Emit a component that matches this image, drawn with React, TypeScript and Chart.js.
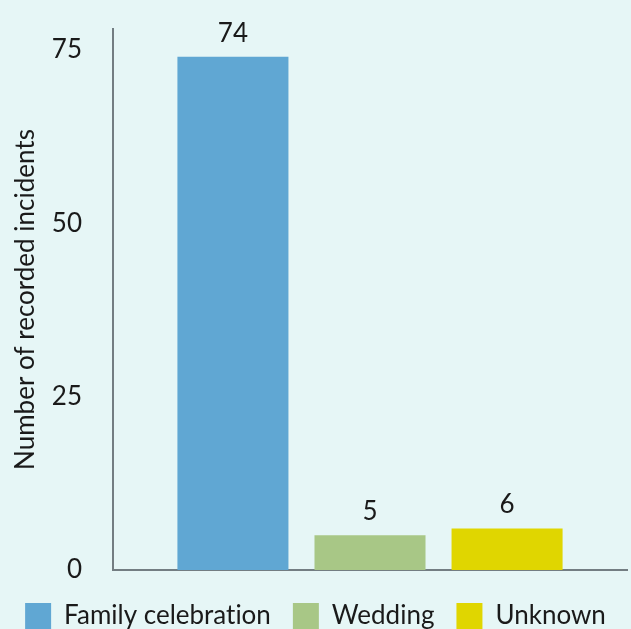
import { useEffect, useRef } from "react";
import { Chart, registerables } from "chart.js";

Chart.register(...registerables);

const categories = [""];
const seriesNames = ["Family celebration", "Wedding", "Unknown"];
const familyCelebration = [74];
const wedding = [5];
const unknown = [6];
const yTicks = [0, 25, 50, 75];
const seriesColors = ["#60a7d3", "#a8c786", "#e0d600"];

const FONT = { family: "Lato", size: 26 };
const TEXT = "#1a1a1a";
const AXIS = "#737d82";
const BG = "#e6f6f6";

export default function App() {
  const ref = useRef<HTMLCanvasElement>(null);

  useEffect(() => {
    document.body.style.margin = "0";
    document.body.style.background = BG;
    document.body.style.overflow = "hidden";

    const noLigatures = (chart: any) => {
      const ctx = chart.ctx as any;
      if (ctx && "textRendering" in ctx) ctx.textRendering = "optimizeSpeed";
    };

    const labelPlugin = {
      id: "valueLabels",
      beforeLayout(chart: any) {
        noLigatures(chart);
      },
      beforeDraw(chart: any) {
        noLigatures(chart);
      },
      afterDatasetsDraw(chart: any) {
        const ctx = chart.ctx;
        ctx.save();
        ctx.font = "26px Lato";
        ctx.fillStyle = TEXT;
        ctx.textAlign = "center";
        ctx.textBaseline = "alphabetic";
        chart.data.datasets.forEach((ds: any, i: number) => {
          const meta = chart.getDatasetMeta(i);
          meta.data.forEach((el: any, j: number) => {
            ctx.fillText(String(ds.data[j]), el.x, el.y - 15);
          });
        });
        ctx.restore();
      },
    };

    const values = [familyCelebration, wedding, unknown];
    const chart = new Chart(ref.current as HTMLCanvasElement, {
      type: "bar",
      data: {
        labels: categories,
        datasets: seriesNames.map((name, i) => ({
          label: name,
          data: values[i],
          backgroundColor: seriesColors[i],
          borderWidth: 0,
          barPercentage: 0.81,
          categoryPercentage: 0.8,
        })),
      },
      options: {
        animation: false,
        responsive: false,
        maintainAspectRatio: false,
        layout: { padding: { top: 29, right: 0, left: 0, bottom: 0 } },
        plugins: {
          legend: {
            position: "bottom",
            labels: {
              boxWidth: 26,
              boxHeight: 26,
              padding: 22,
              font: FONT,
              color: TEXT,
            },
          },
          tooltip: { enabled: false },
        },
        scales: {
          x: {
            grid: { display: false, drawTicks: false },
            border: { display: true, color: AXIS, width: 2 },
            ticks: { display: false },
            afterFit: (s: any) => {
              s.height = 11;
              s.paddingLeft = 0;
              s.paddingRight = 4;
            },
          },
          y: {
            min: 0,
            max: 78,
            afterBuildTicks: (s: any) => {
              s.ticks = yTicks.map((v) => ({ value: v }));
            },
            grid: { display: false, drawTicks: false },
            border: { display: true, color: AXIS, width: 2 },
            ticks: { padding: 31, font: FONT, color: TEXT },
            title: {
              display: true,
              text: "Number of recorded incidents",
              font: FONT,
              color: TEXT,
              padding: { top: 10, bottom: 0 },
            },
            afterFit: (s: any) => {
              s.width = 113;
              s.paddingTop = 0;
              s.paddingBottom = 0;
            },
          },
        },
      } as any,
      plugins: [labelPlugin],
    });
    return () => chart.destroy();
  }, []);

  return (
    <div style={{ width: 631, height: 629, overflow: "hidden", background: BG }}>
      <canvas ref={ref} width={631} height={639} style={{ display: "block" }} />
    </div>
  );
}
